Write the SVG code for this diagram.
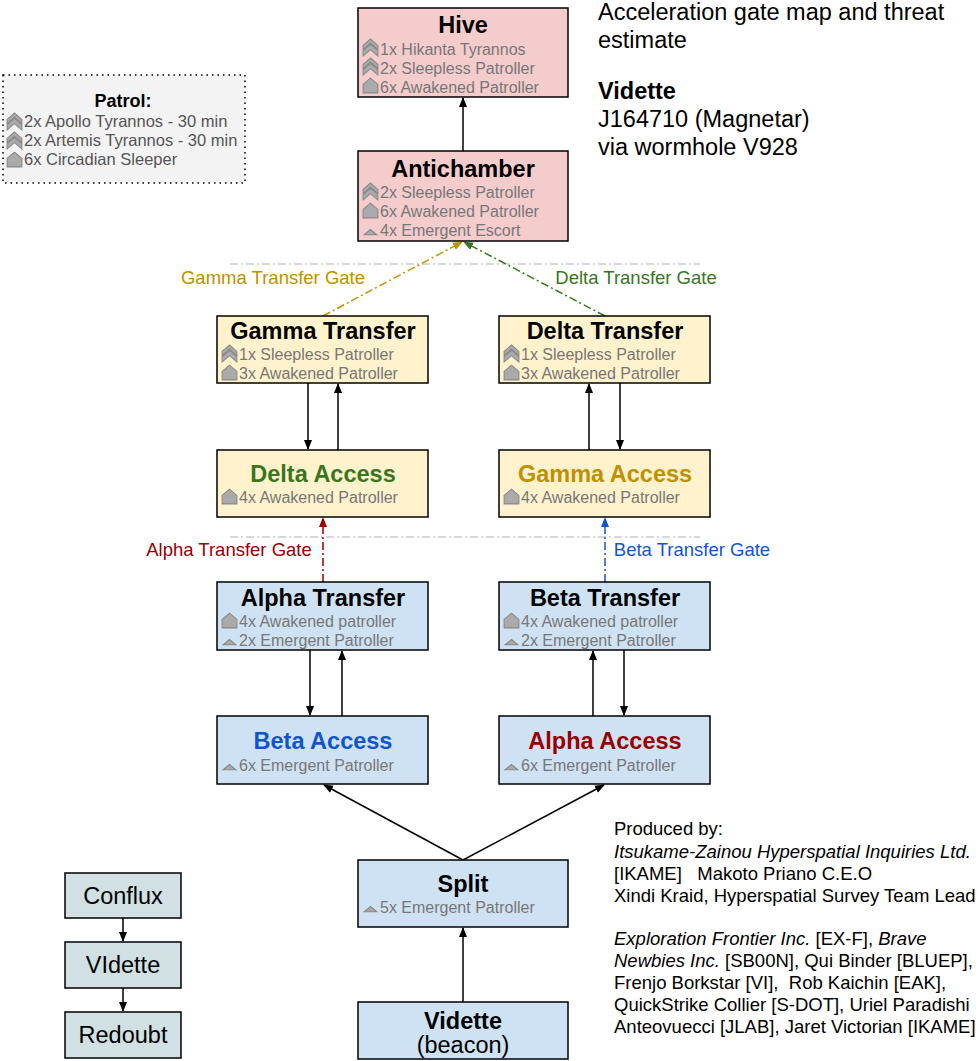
<svg xmlns="http://www.w3.org/2000/svg" width="980" height="1061" viewBox="0 0 980 1061">
<style>
text{font-family:"Liberation Sans",Arial,sans-serif}
.t{font-size:23.5px;font-weight:bold;text-anchor:middle}
.s{font-size:16px;fill:#777}
.n{stroke:#000;stroke-width:1.5}
.p{fill:#f4cccc}.y{fill:#fff2cc}.b{fill:#cfe2f3}.g{fill:#d0e0e3}
.r{font-size:23.5px}
.e{stroke:#000;stroke-width:1.5;fill:none}
.d{fill:none;stroke-width:1.5;stroke-dasharray:8,3,2,3}
.gl{font-size:18.5px;text-anchor:middle}
</style>
<defs>
<marker id="a" markerWidth="10" markerHeight="10" refX="9" refY="5" orient="auto" markerUnits="userSpaceOnUse"><path d="M0,1L10,5L0,9Z" fill="#000"/></marker>
<marker id="ag" markerWidth="10" markerHeight="10" refX="9" refY="5" orient="auto" markerUnits="userSpaceOnUse"><path d="M0,1L10,5L0,9Z" fill="#bf9000"/></marker>
<marker id="aG" markerWidth="10" markerHeight="10" refX="9" refY="5" orient="auto" markerUnits="userSpaceOnUse"><path d="M0,1L10,5L0,9Z" fill="#38761d"/></marker>
<marker id="ar" markerWidth="10" markerHeight="10" refX="9" refY="5" orient="auto" markerUnits="userSpaceOnUse"><path d="M0,1L10,5L0,9Z" fill="#990000"/></marker>
<marker id="ab" markerWidth="10" markerHeight="10" refX="9" refY="5" orient="auto" markerUnits="userSpaceOnUse"><path d="M0,1L10,5L0,9Z" fill="#1155cc"/></marker>
<symbol id="i2" viewBox="0 0 16 18"><path d="M1,7L8,1L15,7L15,11L8,5L1,11Z M1,12L8,6L15,12L15,17L8,11L1,17Z" fill="#aaa" stroke="#888" stroke-width="1"/></symbol>
<symbol id="i1" viewBox="0 0 16 18"><path d="M1,8L8,2L15,8L15,16L1,16Z" fill="#aaa" stroke="#888" stroke-width="1"/></symbol>
<symbol id="i0" viewBox="0 0 16 18"><path d="M2,14L8,9L14,14Z" fill="#aaa" stroke="#888" stroke-width="1"/></symbol>
</defs>
<g id="patrol"><rect x="3" y="75" width="242" height="108" fill="#f3f3f3" stroke="#000" stroke-width="1.5" stroke-dasharray="1.5,4"/>
<text x="123" y="107" font-size="18" font-weight="bold" text-anchor="middle">Patrol:</text>
<use href="#i2" x="6" y="112" width="17" height="19"/><text x="24" y="127" font-size="16.5" fill="#555">2x Apollo Tyrannos - 30 min</text>
<use href="#i2" x="6" y="131" width="17" height="19"/><text x="24" y="146" font-size="16.5" fill="#555">2x Artemis Tyrannos - 30 min</text>
<use href="#i1" x="6" y="150" width="17" height="19"/><text x="24" y="165" font-size="16.5" fill="#555">6x Circadian Sleeper</text></g>
<g id="title"><text class="r" x="598" y="20">Acceleration gate map and threat</text><text class="r" x="598" y="48">estimate</text>
<text class="r" x="598" y="99" font-weight="bold">Vidette</text><text class="r" x="598" y="127">J164710 (Magnetar)</text><text class="r" x="598" y="155">via wormhole V928</text></g>
<g id="sep"><line x1="230" y1="264" x2="700" y2="264" class="d" stroke="#ccc"/><line x1="230" y1="537" x2="700" y2="537" class="d" stroke="#ccc"/></g>
<g id="connectors">
<line x1="463" y1="151" x2="463" y2="98" class="e" marker-end="url(#a)"/>
<line x1="323" y1="316" x2="462" y2="242" class="d" stroke="#bf9000" marker-end="url(#ag)"/>
<line x1="605" y1="316" x2="464" y2="242" class="d" stroke="#38761d" marker-end="url(#aG)"/>
<line x1="308" y1="383" x2="308" y2="449" class="e" marker-end="url(#a)"/>
<line x1="338" y1="450" x2="338" y2="384" class="e" marker-end="url(#a)"/>
<line x1="589" y1="450" x2="589" y2="384" class="e" marker-end="url(#a)"/>
<line x1="620" y1="383" x2="620" y2="449" class="e" marker-end="url(#a)"/>
<line x1="323" y1="582" x2="323" y2="518" class="d" stroke="#990000" marker-end="url(#ar)"/>
<line x1="605" y1="582" x2="605" y2="518" class="d" stroke="#1155cc" marker-end="url(#ab)"/>
<line x1="310" y1="650" x2="310" y2="715" class="e" marker-end="url(#a)"/>
<line x1="342" y1="716" x2="342" y2="651" class="e" marker-end="url(#a)"/>
<line x1="593" y1="716" x2="593" y2="651" class="e" marker-end="url(#a)"/>
<line x1="624" y1="650" x2="624" y2="715" class="e" marker-end="url(#a)"/>
<line x1="463" y1="860" x2="324" y2="785" class="e" marker-end="url(#a)"/>
<line x1="463" y1="860" x2="604" y2="785" class="e" marker-end="url(#a)"/>
<line x1="463" y1="1002" x2="463" y2="928" class="e" marker-end="url(#a)"/>
<line x1="123" y1="918" x2="123" y2="941" class="e" marker-end="url(#a)"/>
<line x1="123" y1="988" x2="123" y2="1011" class="e" marker-end="url(#a)"/>
<text class="gl" x="273" y="284" fill="#bf9000">Gamma Transfer Gate</text>
<text class="gl" x="636" y="284" fill="#38761d">Delta Transfer Gate</text>
<text class="gl" x="229" y="556" fill="#990000">Alpha Transfer Gate</text>
<text class="gl" x="692" y="556" fill="#1155cc">Beta Transfer Gate</text>
</g>
<g id="hive"><rect x="358" y="8" width="210" height="89" class="n p"/><text class="t" x="463" y="33">Hive</text>
<use href="#i2" x="362" y="38" width="17" height="19"/><text class="s" x="380" y="55">1x Hikanta Tyrannos</text>
<use href="#i2" x="362" y="57" width="17" height="19"/><text class="s" x="380" y="74">2x Sleepless Patroller</text>
<use href="#i1" x="362" y="76" width="17" height="19"/><text class="s" x="380" y="93">6x Awakened Patroller</text></g>
<g id="antichamber"><rect x="358" y="151" width="210" height="90" class="n p"/><text class="t" x="463" y="177">Antichamber</text>
<use href="#i2" x="362" y="182" width="17" height="19"/><text class="s" x="380" y="198">2x Sleepless Patroller</text>
<use href="#i1" x="362" y="201" width="17" height="19"/><text class="s" x="380" y="217">6x Awakened Patroller</text>
<use href="#i0" x="362" y="220" width="17" height="19"/><text class="s" x="380" y="236">4x Emergent Escort</text></g>
<g id="gammaTransfer"><rect x="217" y="316" width="211" height="67" class="n y"/><text class="t" x="323" y="339">Gamma Transfer</text>
<use href="#i2" x="221" y="344" width="17" height="19"/><text class="s" x="239" y="360">1x Sleepless Patroller</text>
<use href="#i1" x="221" y="363" width="17" height="19"/><text class="s" x="239" y="379">3x Awakened Patroller</text></g>
<g id="deltaTransfer"><rect x="499" y="316" width="211" height="67" class="n y"/><text class="t" x="605" y="339">Delta Transfer</text>
<use href="#i2" x="503" y="344" width="17" height="19"/><text class="s" x="521" y="360">1x Sleepless Patroller</text>
<use href="#i1" x="503" y="363" width="17" height="19"/><text class="s" x="521" y="379">3x Awakened Patroller</text></g>
<g id="deltaAccess"><rect x="217" y="450" width="211" height="67" class="n y"/><text class="t" x="323" y="482" fill="#38761d">Delta Access</text>
<use href="#i1" x="221" y="487" width="17" height="19"/><text class="s" x="239" y="503">4x Awakened Patroller</text></g>
<g id="gammaAccess"><rect x="499" y="450" width="211" height="67" class="n y"/><text class="t" x="605" y="482" fill="#bf9000">Gamma Access</text>
<use href="#i1" x="503" y="487" width="17" height="19"/><text class="s" x="521" y="503">4x Awakened Patroller</text></g>
<g id="alphaTransfer"><rect x="217" y="582" width="211" height="68" class="n b"/><text class="t" x="323" y="606">Alpha Transfer</text>
<use href="#i1" x="221" y="611" width="17" height="19"/><text class="s" x="239" y="627">4x Awakened patroller</text>
<use href="#i0" x="221" y="630" width="17" height="19"/><text class="s" x="239" y="646">2x Emergent Patroller</text></g>
<g id="betaTransfer"><rect x="499" y="582" width="211" height="68" class="n b"/><text class="t" x="605" y="606">Beta Transfer</text>
<use href="#i1" x="503" y="611" width="17" height="19"/><text class="s" x="521" y="627">4x Awakened patroller</text>
<use href="#i0" x="503" y="630" width="17" height="19"/><text class="s" x="521" y="646">2x Emergent Patroller</text></g>
<g id="betaAccess"><rect x="217" y="716" width="211" height="68" class="n b"/><text class="t" x="323" y="749" fill="#1155cc">Beta Access</text>
<use href="#i0" x="221" y="755" width="17" height="19"/><text class="s" x="239" y="771">6x Emergent Patroller</text></g>
<g id="alphaAccess"><rect x="499" y="716" width="211" height="68" class="n b"/><text class="t" x="605" y="749" fill="#990000">Alpha Access</text>
<use href="#i0" x="503" y="755" width="17" height="19"/><text class="s" x="521" y="771">6x Emergent Patroller</text></g>
<g id="split"><rect x="358" y="860" width="210" height="67" class="n b"/><text class="t" x="463" y="892">Split</text>
<use href="#i0" x="362" y="897" width="17" height="19"/><text class="s" x="380" y="913">5x Emergent Patroller</text></g>
<g id="vidette"><rect x="358" y="1002" width="210" height="57" class="n b"/><text class="t" x="463" y="1029">Vidette</text><text x="463" y="1053" font-size="23.5" text-anchor="middle">(beacon)</text></g>
<g id="conflux"><rect x="65" y="873" width="116" height="45" class="n g"/><text x="123" y="904" font-size="23.5" text-anchor="middle">Conflux</text></g>
<g id="vidette2"><rect x="65" y="942" width="116" height="46" class="n g"/><text x="123" y="973" font-size="23.5" text-anchor="middle">VIdette</text></g>
<g id="redoubt"><rect x="65" y="1012" width="116" height="46" class="n g"/><text x="123" y="1043" font-size="23.5" text-anchor="middle">Redoubt</text></g>
<g id="credits" font-size="18.5">
<text x="614" y="835">Produced by:</text>
<text x="614" y="858" font-style="italic">Itsukame-Zainou Hyperspatial Inquiries Ltd.</text>
<text x="614" y="880" xml:space="preserve">[IKAME]   Makoto Priano C.E.O</text>
<text x="614" y="902">Xindi Kraid, Hyperspatial Survey Team Lead</text>
<text x="614" y="945"><tspan font-style="italic">Exploration Frontier Inc.</tspan> [EX-F], <tspan font-style="italic">Brave</tspan></text>
<text x="614" y="967"><tspan font-style="italic">Newbies Inc.</tspan> [SB00N], Qui Binder [BLUEP],</text>
<text x="614" y="989" xml:space="preserve">Frenjo Borkstar [VI],  Rob Kaichin [EAK],</text>
<text x="614" y="1011">QuickStrike Collier [S-DOT], Uriel Paradishi</text>
<text x="614" y="1033">Anteovuecci [JLAB], Jaret Victorian [IKAME]</text>
</g>
</svg>
